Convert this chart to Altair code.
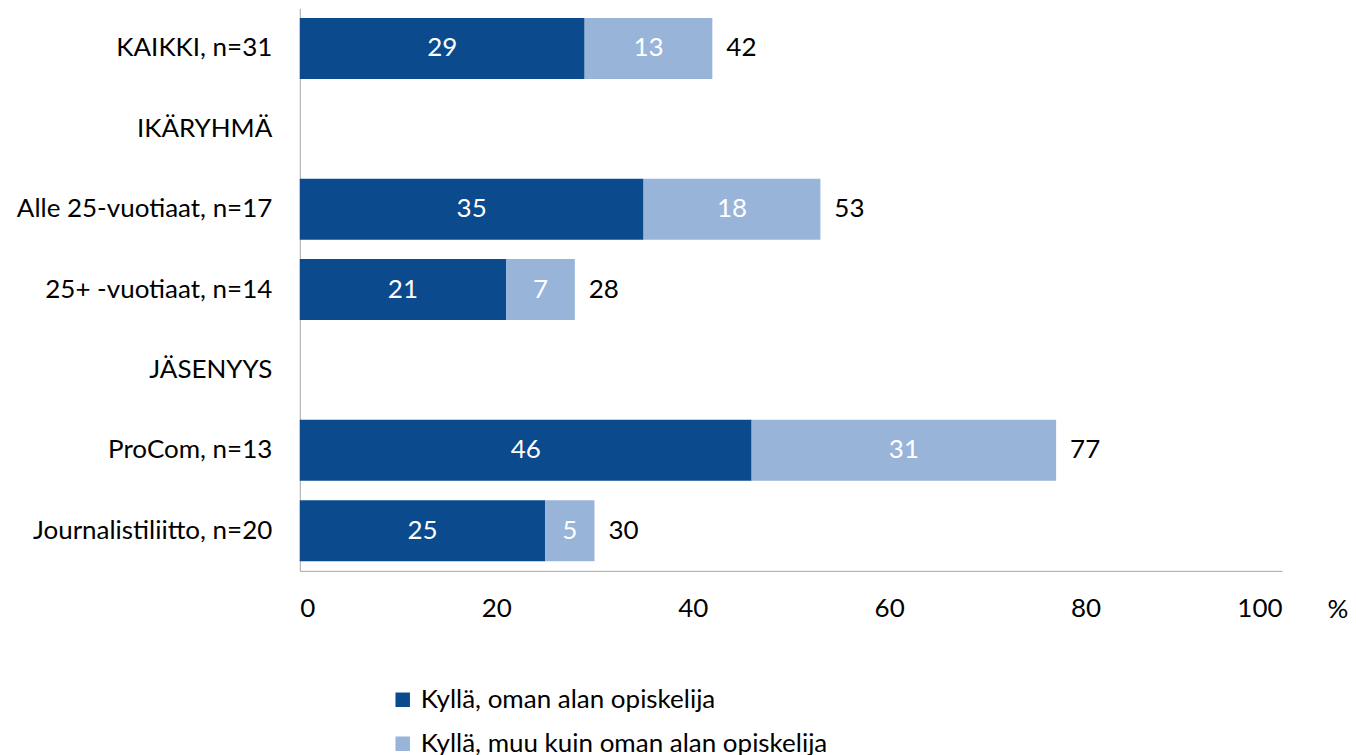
import altair as alt
import pandas as pd

categories = ["KAIKKI, n=31", "IKÄRYHMÄ", "Alle 25-vuotiaat, n=17", "25+ -vuotiaat, n=14",
              "JÄSENYYS", "ProCom, n=13", "Journalistiliitto, n=20"]
bar_rows = ["KAIKKI, n=31", "Alle 25-vuotiaat, n=17", "25+ -vuotiaat, n=14",
            "ProCom, n=13", "Journalistiliitto, n=20"]
series = ["Kyllä, oman alan opiskelija", "Kyllä, muu kuin oman alan opiskelija"]
own_field = [29, 35, 21, 46, 25]
other_field = [13, 18, 7, 31, 5]
totals = [42, 53, 28, 77, 30]
colors = ["#0B4A8C", "#98B4D9"]
x_ticks = [0, 20, 40, 60, 80, 100]

rows = []
for i, c in enumerate(bar_rows):
    rows.append({"cat": c, "series": series[0], "order": 0, "value": own_field[i]})
    rows.append({"cat": c, "series": series[1], "order": 1, "value": other_field[i]})
df = pd.DataFrame(rows)
df_tot = pd.DataFrame({"cat": bar_rows, "total": totals})

FONT = "Lato"
FS = 26
W, H = 983, 563

yenc = alt.Y("cat:N", sort=categories,
             scale=alt.Scale(domain=categories, paddingInner=0.24, paddingOuter=0.12),
             axis=alt.Axis(title=None, labelFontSize=FS, labelColor="#000000", labelFont=FONT,
                           labelPadding=28, ticks=False, domainColor="#A6A6A6", labelLimit=400))
xscale = alt.Scale(domain=[0, 100], nice=False, zero=True)

base = alt.Chart(df).transform_stack(
    stack="value", groupby=["cat"], as_=["x0", "x1"], sort=[alt.SortField("order")]
).transform_calculate(mid="(datum.x0 + datum.x1) / 2")

bars = base.mark_bar().encode(
    x=alt.X("x0:Q", scale=xscale,
            axis=alt.Axis(title=None, values=x_ticks, labelFontSize=FS, labelFont=FONT,
                          labelColor="#000000", ticks=False, grid=False, domainColor="#A6A6A6",
                          labelPadding=25)),
    x2="x1:Q",
    y=yenc,
    color=alt.Color("series:N", scale=alt.Scale(domain=series, range=colors),
                    legend=alt.Legend(title=None, orient="none", legendX=90, legendY=679,
                                      direction="vertical", symbolType="square", symbolSize=210,
                                      labelFontSize=FS, labelFont=FONT, labelColor="#000000",
                                      rowPadding=18, symbolStrokeWidth=0, labelOffset=5,
                                      labelLimit=600)),
    order=alt.Order("order:Q"),
)

inner = base.mark_text(color="white", fontSize=FS, font=FONT).encode(
    x=alt.X("mid:Q", scale=xscale),
    y=alt.Y("cat:N", sort=categories),
    text=alt.Text("value:Q"),
)

tot = alt.Chart(df_tot).mark_text(color="black", fontSize=FS, font=FONT, align="left", dx=14).encode(
    x=alt.X("total:Q", scale=xscale),
    y=alt.Y("cat:N", sort=categories),
    text=alt.Text("total:Q"),
)

pct = alt.Chart(pd.DataFrame({"t": ["%"]})).mark_text(
    color="black", fontSize=FS, font=FONT, align="center", baseline="middle", dx=56
).encode(x=alt.datum(100, scale=xscale), y=alt.value(H + 39), text="t:N")

chart = alt.layer(bars, inner, tot, pct).properties(
    width=W, height=H,
    autosize=alt.AutoSizeParams(type="none"),
    padding={"left": 292, "top": 0, "right": 66, "bottom": 186},
).configure(font=FONT).configure_view(stroke=None)

chart.save("out.html", embed_options={"renderer": "svg", "actions": False})
